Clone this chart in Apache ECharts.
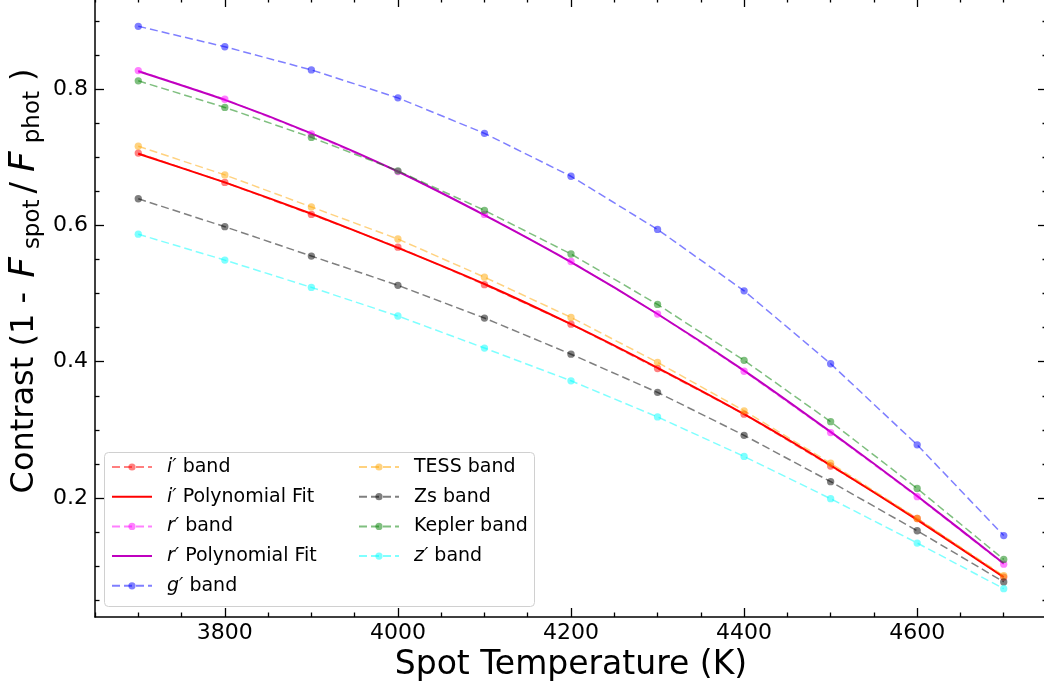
<!DOCTYPE html>
<html>
<head>
<meta charset="utf-8">
<script src="https://cdn.jsdelivr.net/npm/echarts@6/dist/echarts.min.js"></script>
<style>
html,body{margin:0;padding:0;background:#fff;}
#chart{width:1044px;height:688px;}
</style>
</head>
<body>
<div id="chart"></div>
<script>
// ---- data ----
const temps = [3700, 3800, 3900, 4000, 4100, 4200, 4300, 4400, 4500, 4600, 4700];
const iBand  = [0.706, 0.663, 0.616, 0.568, 0.513, 0.455, 0.390, 0.323, 0.247, 0.170, 0.084];
const iFit   = [0.705, 0.663, 0.617, 0.567, 0.514, 0.455, 0.391, 0.323, 0.248, 0.168, 0.084];
const rBand  = [0.827, 0.785, 0.734, 0.679, 0.616, 0.547, 0.470, 0.386, 0.296, 0.202, 0.103];
const rFit   = [0.826, 0.784, 0.735, 0.679, 0.615, 0.546, 0.470, 0.387, 0.297, 0.203, 0.104];
const gBand  = [0.892, 0.862, 0.828, 0.787, 0.735, 0.672, 0.594, 0.504, 0.397, 0.278, 0.145];
const tessBand   = [0.716, 0.674, 0.627, 0.580, 0.524, 0.465, 0.399, 0.328, 0.251, 0.170, 0.086];
const zsBand     = [0.639, 0.598, 0.555, 0.512, 0.464, 0.411, 0.355, 0.292, 0.224, 0.152, 0.077];
const keplerBand = [0.812, 0.773, 0.729, 0.680, 0.622, 0.558, 0.484, 0.402, 0.312, 0.214, 0.110];
const zBand      = [0.587, 0.549, 0.509, 0.467, 0.420, 0.372, 0.319, 0.261, 0.199, 0.134, 0.067];

const xMajorTicks = [3800, 4000, 4200, 4400, 4600];
const xMinorTicks = [3650, 3700, 3750, 3850, 3900, 3950, 4050, 4100, 4150, 4250, 4300, 4350, 4450, 4500, 4550, 4650, 4700, 4750];
const yMajorTicks = [0.2, 0.4, 0.6, 0.8];
const yMinorTicks = [0.05, 0.1, 0.15, 0.25, 0.3, 0.35, 0.45, 0.5, 0.55, 0.65, 0.7, 0.75, 0.85, 0.9];

const legendLeft  = ["i′ band", "i′ Polynomial Fit", "r′ band", "r′ Polynomial Fit", "g′ band"];
const legendRight = ["TESS band", "Zs band", "Kepler band", "z′ band"];
const fitNames = [legendLeft[1], legendLeft[3]];

// ---- helpers ----
const FONT = 'DejaVu Sans';
function pairs(v) { return temps.map((t, k) => [t, v[k]]); }
function bandSeries(name, values, color) {
  return {
    name: name, type: 'line', data: pairs(values),
    symbol: 'circle', symbolSize: 7.3,
    itemStyle: { color: color, opacity: 0.5 },
    lineStyle: { color: color, width: 1.5, type: [8, 4], opacity: 0.5 },
    emphasis: { disabled: true }
  };
}
function fitSeries(name, values, color) {
  return {
    name: name, type: 'line', data: pairs(values), smooth: 0.2,
    symbol: 'none', showSymbol: false,
    itemStyle: { color: color },
    lineStyle: { color: color, width: 2, type: 'solid', opacity: 1 },
    emphasis: { disabled: true }
  };
}
const XMIN = 3650, XMAX = 4750, YMIN = 0.0255, YMAX = 0.9335;

function xAxisDef(pos, ticks, len, showLine, showLabel) {
  return {
    type: 'value', position: pos, min: XMIN, max: XMAX,
    axisLine: { show: showLine, onZero: false, lineStyle: { color: '#000', width: 1.5 } },
    axisTick: { show: true, inside: true, length: len, customValues: ticks, lineStyle: { color: '#000', width: 1.3 } },
    axisLabel: { show: showLabel, customValues: ticks, margin: 5, color: '#000', fontSize: 22, fontFamily: FONT,
                 formatter: v => String(v) },
    splitLine: { show: false }
  };
}
function yAxisDef(pos, ticks, len, showLine, showLabel) {
  return {
    type: 'value', position: pos, min: YMIN, max: YMAX,
    axisLine: { show: showLine, onZero: false, lineStyle: { color: '#000', width: 1.5 } },
    axisTick: { show: true, inside: true, length: len, customValues: ticks, lineStyle: { color: '#000', width: 1.3 } },
    axisLabel: { show: showLabel, customValues: ticks, margin: 7, color: '#000', fontSize: 22, fontFamily: FONT,
                 formatter: v => Number(v).toFixed(1) },
    splitLine: { show: false }
  };
}

const xAxes = [
  xAxisDef('bottom', xMajorTicks, 9, true, true),
  xAxisDef('bottom', xMinorTicks, 4.5, false, false),
  xAxisDef('top', xMajorTicks, 9, true, false),
  xAxisDef('top', xMinorTicks, 4.5, false, false)
];
xAxes[0].name = 'Spot Temperature (K)';
xAxes[0].nameLocation = 'middle';
xAxes[0].nameGap = 29;
xAxes[0].nameTextStyle = { fontSize: 33, fontFamily: FONT, color: '#000' };

const yAxes = [
  yAxisDef('left', yMajorTicks, 9, true, true),
  yAxisDef('left', yMinorTicks, 4.5, false, false),
  yAxisDef('right', yMajorTicks, 9, true, false),
  yAxisDef('right', yMinorTicks, 4.5, false, false)
];

const richLegend = {
  g:  { width: 10, fontSize: 19, lineHeight: 20 },
  it: { fontStyle: 'italic', fontSize: 19, lineHeight: 20, fontFamily: FONT, color: '#000' },
  t:  { fontSize: 19, lineHeight: 20, fontFamily: FONT, color: '#000' }
};
function legendFmt(name) {
  const m = name.match(/^([a-z])′(.*)$/);
  if (m) return '{g|}{it|' + m[1] + '′}{t|' + m[2] + '}';
  return '{g|}{t|' + name + '}';
}
function legendDef(names, left) {
  return {
    data: names.map(n => fitNames.indexOf(n) >= 0 ? { name: n, itemStyle: { opacity: 0 } } : { name: n }),
    orient: 'vertical', left: left, top: 457, padding: 0,
    itemWidth: 40, itemHeight: 9, itemGap: 9.7, z: 10,
    selectedMode: false,
    formatter: legendFmt,
    textStyle: { fontSize: 19, lineHeight: 20, fontFamily: FONT, color: '#000', rich: richLegend }
  };
}

const chart = echarts.init(document.getElementById('chart'), null, { renderer: 'canvas' });
chart.setOption({
  animation: false,
  backgroundColor: '#fff',
  grid: { left: 95, right: -3, top: -2, bottom: 71, containLabel: false, outerBoundsMode: 'none' },
  xAxis: xAxes,
  yAxis: yAxes,
  legend: [legendDef(legendLeft, 111), legendDef(legendRight, 358)],
  graphic: [
    {
      type: 'rect', z: 3,
      shape: { x: 104.5, y: 452.5, width: 430, height: 154, r: 4 },
      style: { fill: 'rgba(255,255,255,0.8)', stroke: '#d0d0d0', lineWidth: 1 }
    },
    {
      type: 'text', x: 25, y: 281, rotation: Math.PI / 2, z: 5,
      style: {
        text: '{n|Contrast (1 - }{f|F}{s|spot}{sl|/}{f|F}{s|phot}{c|)}',
        align: 'center', verticalAlign: 'middle',
        fill: '#000',
        rich: {
          n:  { fontSize: 32, lineHeight: 40, fontFamily: FONT, fill: '#000' },
          f:  { fontSize: 36, lineHeight: 40, fontFamily: FONT, fontStyle: 'italic', fill: '#000', padding: [0, 8, 0, 4] },
          sl: { fontSize: 34, lineHeight: 40, fontFamily: FONT, fill: '#000', padding: [0, 6, 0, 6] },
          c:  { fontSize: 32, lineHeight: 40, fontFamily: FONT, fill: '#000', padding: [0, 0, 0, 10] },
          s:  { fontSize: 23, lineHeight: 24, fontFamily: FONT, verticalAlign: 'bottom', fill: '#000' }
        }
      }
    }
  ],
  series: [
    bandSeries(legendLeft[0], iBand, '#ff0000'),
    fitSeries(legendLeft[1], iFit, '#ff0000'),
    bandSeries(legendLeft[2], rBand, '#ff00ff'),
    fitSeries(legendLeft[3], rFit, '#bf00bf'),
    bandSeries(legendLeft[4], gBand, '#0000ff'),
    bandSeries(legendRight[0], tessBand, '#ffa500'),
    bandSeries(legendRight[1], zsBand, '#000000'),
    bandSeries(legendRight[2], keplerBand, '#008000'),
    bandSeries(legendRight[3], zBand, '#00ffff')
  ]
});
</script>
</body>
</html>
